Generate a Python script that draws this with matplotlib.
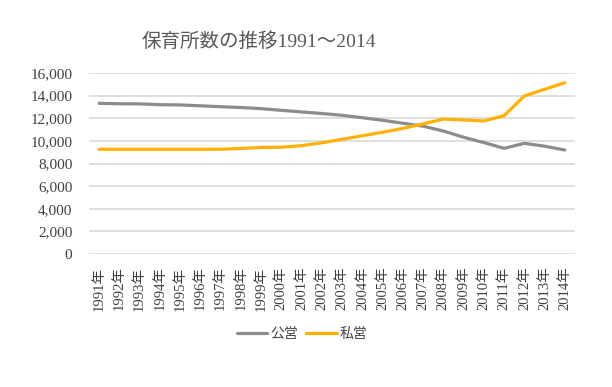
import matplotlib
matplotlib.use("Agg")
import matplotlib.pyplot as plt
from matplotlib.ticker import FuncFormatter

plt.rcParams['font.family'] = ['Liberation Serif', 'Noto Sans CJK JP', 'DejaVu Sans']

years = [str(y) + "年" for y in range(1991, 2015)]
public = [13320, 13280, 13270, 13200, 13180, 13100, 13020, 12950, 12850, 12700,
          12560, 12420, 12260, 12050, 11820, 11560, 11300, 10870, 10320, 9850,
          9340, 9785, 9530, 9190]
private = [9255, 9255, 9255, 9255, 9255, 9255, 9260, 9330, 9420, 9440,
           9580, 9830, 10140, 10450, 10760, 11100, 11500, 11930, 11850, 11760,
           12225, 13970, 14560, 15140]

fig = plt.figure(figsize=(6.12, 3.87), dpi=100)
ax = fig.add_axes([89/612, 1-254/387, (575-89)/612, (254-73)/387])

x = range(len(years))
ax.plot(x, public, color='#8c8c8c', lw=2.3, label='公営', solid_capstyle='round')
ax.plot(x, private, color='#ffb000', lw=2.3, label='私営', solid_capstyle='round')

ax.set_xlim(-0.5, len(years) - 0.5)
ax.set_ylim(0, 16000)
ax.set_yticks(range(0, 16001, 2000))
ax.yaxis.set_major_formatter(FuncFormatter(lambda v, p: f"{int(v):,}"))
ax.set_xticks(list(x))
ax.set_xticklabels(years, rotation=90)
ax.grid(axis='y', color='#d9d9d9', lw=1.2)
ax.set_axisbelow(True)
for s in ax.spines.values():
    s.set_visible(False)
ax.tick_params(length=0, colors='#404040')
ax.tick_params(axis='y', pad=12, labelsize=11)
ax.tick_params(axis='x', pad=9, labelsize=10.5)

fig.text(259/612, 1-42/387, "保育所数の推移1991～2014", ha='center', va='center',
         fontsize=14, color='#595959')

fig.legend(loc='center', bbox_to_anchor=(302/612, 1-334/387), ncol=2, frameon=False,
           handlelength=2.2, handletextpad=0.2, columnspacing=0.6, fontsize=10,
           labelcolor='#404040')

fig.savefig("out.png", dpi=100)
